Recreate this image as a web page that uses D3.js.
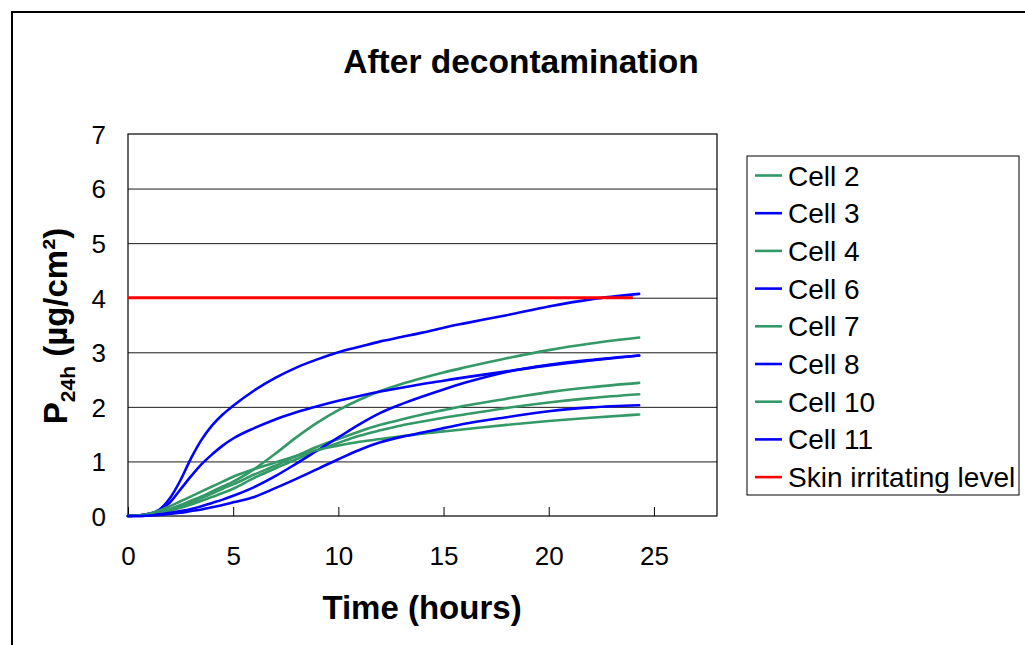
<!DOCTYPE html>
<html>
<head>
<meta charset="utf-8">
<script src="https://cdn.jsdelivr.net/npm/d3@7"></script>
<style>
  html, body { margin: 0; padding: 0; background: #fff; }
  svg { display: block; font-family: "Liberation Sans", Arial, sans-serif; }
</style>
</head>
<body>
<svg id="chart" width="1025" height="645"></svg>
<script>
// ---- data ----
const times = [0,0.5,1,1.5,2,2.5,3,3.5,4,4.5,5,6,7,8,9,10,11,12,13,14,15,16,18,20,22,24.3];

const cell2  = [0,0.01,0.03,0.07,0.13,0.20,0.28,0.36,0.45,0.54,0.63,0.86,1.14,1.44,1.71,1.94,2.13,2.29,2.42,2.53,2.63,2.72,2.89,3.04,3.16,3.27];
const cell3  = [0,0.01,0.04,0.12,0.33,0.66,1.06,1.40,1.66,1.86,2.02,2.30,2.53,2.72,2.87,3.00,3.10,3.20,3.28,3.36,3.45,3.53,3.68,3.84,3.97,4.07];
const cell4  = [0,0.01,0.03,0.07,0.12,0.18,0.25,0.33,0.41,0.50,0.58,0.76,0.92,1.10,1.27,1.41,1.55,1.67,1.77,1.86,1.94,2.02,2.15,2.27,2.36,2.44];
const cell6  = [0,0.01,0.04,0.10,0.25,0.49,0.73,0.95,1.13,1.29,1.42,1.61,1.77,1.90,2.01,2.11,2.20,2.28,2.35,2.42,2.48,2.54,2.65,2.76,2.85,2.94];
const cell7  = [0,0.01,0.02,0.05,0.10,0.15,0.21,0.28,0.35,0.42,0.50,0.70,0.87,1.04,1.20,1.34,1.47,1.57,1.66,1.73,1.80,1.86,1.98,2.08,2.16,2.23];
const cell8  = [0,0,0.01,0.03,0.06,0.09,0.13,0.18,0.24,0.30,0.37,0.53,0.73,0.96,1.20,1.44,1.68,1.89,2.05,2.19,2.32,2.44,2.64,2.77,2.86,2.94];
const cell10 = [0,0.01,0.04,0.10,0.18,0.27,0.36,0.45,0.54,0.63,0.72,0.86,0.98,1.10,1.21,1.29,1.36,1.41,1.46,1.51,1.55,1.59,1.67,1.74,1.80,1.86];
const cell11 = [0,0,0.01,0.02,0.04,0.06,0.09,0.12,0.16,0.20,0.25,0.35,0.51,0.68,0.86,1.04,1.21,1.35,1.45,1.53,1.61,1.69,1.81,1.92,1.99,2.03];

const irritTimes  = [0, 24];
const irritLevel  = [4, 4];

const seriesNames = ["Cell 2","Cell 3","Cell 4","Cell 6","Cell 7","Cell 8","Cell 10","Cell 11"];
const seriesValues = [cell2, cell3, cell4, cell6, cell7, cell8, cell10, cell11];
const legendNames = ["Cell 2","Cell 3","Cell 4","Cell 6","Cell 7","Cell 8","Cell 10","Cell 11","Skin irritating level"];

const xTicks = [0,5,10,15,20,25];
const yTicks = [0,1,2,3,4,5,6,7];

const titleText = "After decontamination";
const xTitle = "Time (hours)";

// ---- styles ----
const GREEN = "#339966", BLUE = "#0000ff", RED = "#ff0000";
const seriesColors = [GREEN, BLUE, GREEN, BLUE, GREEN, BLUE, GREEN, BLUE];
const legendColors = seriesColors.concat([RED]);

const svg = d3.select("#chart");
const W = 1025, H = 645;
const plot = {left: 128, top: 134, right: 717, bottom: 516};

// outer frame (left & top edges visible)
svg.append("path")
  .attr("d", `M12,${H} L12,12 L${W},12`)
  .attr("fill", "none").attr("stroke", "#000").attr("stroke-width", 2);

const x = d3.scaleLinear().domain([0, 28]).range([plot.left, plot.right]);
const y = d3.scaleLinear().domain([0, 7]).range([plot.bottom, plot.top]);

// gridlines
const grid = svg.append("g")
  .attr("transform", `translate(${plot.left},0)`)
  .call(d3.axisLeft(y).tickValues(yTicks.slice(1, -1)).tickSize(-(plot.right - plot.left)).tickFormat(""));
grid.select(".domain").remove();
grid.selectAll("line").attr("stroke", "#1a1a1a").attr("stroke-width", 1);

// x axis (inside ticks)
const xa = svg.append("g")
  .attr("transform", `translate(0,${plot.bottom})`)
  .call(d3.axisBottom(x).tickValues(xTicks).tickSize(-9).tickPadding(31).tickFormat(d3.format("d")));
xa.select(".domain").remove();
xa.selectAll("line").attr("stroke", "#000").attr("stroke-width", 1);
xa.selectAll("text")
  .attr("font-family", "Liberation Sans, Arial, sans-serif")
  .attr("font-size", 26).attr("fill", "#000");

// y axis labels
const ya = svg.append("g")
  .attr("transform", `translate(${plot.left},0)`)
  .call(d3.axisLeft(y).tickValues(yTicks).tickSize(0).tickPadding(22).tickFormat(d3.format("d")));
ya.select(".domain").remove();
ya.selectAll("text")
  .attr("font-family", "Liberation Sans, Arial, sans-serif")
  .attr("font-size", 26).attr("fill", "#000").attr("dy", "0.36em");

// plot frame
svg.append("rect")
  .attr("x", plot.left).attr("y", plot.top)
  .attr("width", plot.right - plot.left).attr("height", plot.bottom - plot.top)
  .attr("fill", "none").attr("stroke", "#000").attr("stroke-width", 1.2);

// lines
const line = d3.line()
  .x((d, i) => x(times[i]))
  .y(d => y(d))
  .curve(d3.curveMonotoneX);

svg.append("g").selectAll("path")
  .data(seriesValues)
  .join("path")
  .attr("d", d => line(d))
  .attr("fill", "none")
  .attr("stroke", (d, i) => seriesColors[i])
  .attr("stroke-width", 2.6)
  .attr("stroke-linejoin", "round")
  .attr("stroke-linecap", "round");

// skin irritating level line
svg.append("path")
  .attr("d", d3.line().x((d, i) => x(irritTimes[i])).y(d => y(d))(irritLevel))
  .attr("fill", "none").attr("stroke", RED).attr("stroke-width", 3);

// title
svg.append("text")
  .attr("x", 521).attr("y", 72.5)
  .attr("text-anchor", "middle")
  .attr("font-size", 33.5).attr("font-weight", "bold")
  .text(titleText);

// x title
svg.append("text")
  .attr("x", 422).attr("y", 619)
  .attr("text-anchor", "middle")
  .attr("font-size", 33).attr("font-weight", "bold")
  .text(xTitle);

// y title
const yt = svg.append("text")
  .attr("transform", `translate(67,326) rotate(-90)`)
  .attr("text-anchor", "middle")
  .attr("font-size", 33).attr("font-weight", "bold");
yt.append("tspan").text("P");
yt.append("tspan").attr("font-size", 21).attr("dy", 8).text("24h");
yt.append("tspan").attr("dy", -8).text(" (µg/cm²)");

// legend
const lg = svg.append("g");
lg.append("rect")
  .attr("x", 747).attr("y", 156).attr("width", 272).attr("height", 339)
  .attr("fill", "#fff").attr("stroke", "#000").attr("stroke-width", 1);
const items = lg.selectAll("g.item")
  .data(legendNames)
  .join("g")
  .attr("class", "item")
  .attr("transform", (d, i) => `translate(0,${175.5 + i * 37.7})`);
items.append("line")
  .attr("x1", 755).attr("x2", 782).attr("y1", 0).attr("y2", 0)
  .attr("stroke", (d, i) => legendColors[i]).attr("stroke-width", 2.6);
items.append("text")
  .attr("x", 788).attr("y", 10)
  .attr("font-size", 28).attr("fill", "#000")
  .text(d => d);
</script>
</body>
</html>
